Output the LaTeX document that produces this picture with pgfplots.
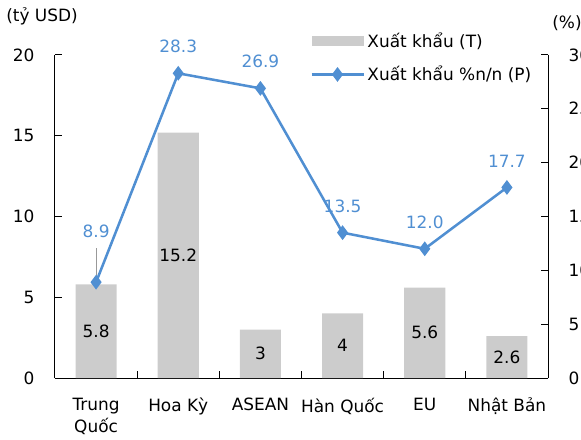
\documentclass[border=0pt]{standalone}
\usepackage{fontspec}
\setmainfont{DejaVu Sans}
\usepackage{pgfplots}
\pgfplotsset{compat=1.18}
\definecolor{barg}{RGB}{204,204,204}
\definecolor{lblue}{RGB}{80,143,210}
\pgfplotsset{
  lineleg/.style={legend image code/.code={\draw[##1, mark repeat=2, mark phase=2] plot coordinates {(0pt,0pt) (19.5pt,0pt) (39pt,0pt)};}},
  barleg/.style={legend image code/.code={\fill[barg] (0pt,-3.75pt) rectangle (39pt,3.75pt);}},
}
\newcommand{\lf}{\fontsize{12.7}{17}\selectfont}
\begin{document}
\lf
\begin{tikzpicture}
\pgfplotsset{
  common/.style={
    scale only axis, width=369.75pt, height=242.25pt,
    xmin=-0.5, xmax=5.5,
    /pgf/number format/assume math mode=true,
    tick label style={font=\lf},
    axis line style={line width=0.75pt, black},
    tick style={line width=0.75pt, black},
    major tick length=5pt, minor tick length=5pt,
  }
}
\begin{axis}[common,
  axis y line*=left, axis x line*=bottom,
  ymin=0, ymax=20, ytick={0,5,10,15,20},
  yticklabel style={xshift=-11pt},
  xtick={0,1,2,3,4,5},
  xticklabels={{Trung\\Quốc},{Hoa Kỳ},{ASEAN},{Hàn Quốc},{EU},{Nhật Bản}},
  xticklabel style={align=center, yshift=-10.5pt},
  minor xtick={0.5,1.5,2.5,3.5,4.5},
  major x tick style={draw=none},
  legend style={at={(axis description cs:0.5172,1.078)}, anchor=north west,
    draw=none, fill=none, inner sep=0pt, row sep=8pt,
    font=\lf,
    nodes={inner sep=2pt}},
  legend cell align=left,
]
\addplot[ybar, bar width=0.5, fill=barg, draw=none, barleg]
  coordinates {(0,5.8) (1,15.2) (2,3) (3,4) (4,5.6) (5,2.6)};
\addlegendentry{Xuất khẩu (T)}
\addlegendimage{lblue, line width=1.9pt, mark=diamond*, mark size=4pt, lineleg}
\addlegendentry{Xuất khẩu \%n/n (P)}
\addplot[draw=none, nodes near coords, point meta=explicit symbolic,
  every node near coord/.append style={anchor=center, inner sep=0pt, black, font=\lf}]
  coordinates {(0,2.9)[5.8] (1,7.6)[15.2] (2,1.5)[3] (3,2)[4] (4,2.8)[5.6] (5,1.3)[2.6]};
\end{axis}
\begin{axis}[common,
  axis y line*=right, axis x line=none,
  ymin=0, ymax=30, ytick={0,5,10,15,20,25,30},
  yticklabel style={xshift=11pt},
]
\addplot[lblue, line width=1.9pt, mark=diamond*, mark size=4pt]
  coordinates {(0,8.9) (1,28.3) (2,26.9) (3,13.5) (4,12.0) (5,17.7)};
\addplot[draw=none, nodes near coords, point meta=explicit symbolic,
  every node near coord/.append style={anchor=south, inner sep=0pt, yshift=15pt, lblue, font=\lf}]
  coordinates {(1,28.3)[28.3] (2,26.9)[26.9] (3,13.5)[13.5] (4,12.0)[12.0] (5,17.7)[17.7]};
\addplot[draw=none, nodes near coords, point meta=explicit symbolic,
  every node near coord/.append style={anchor=south, inner sep=0pt, yshift=33pt, lblue, font=\lf}]
  coordinates {(0,8.9)[8.9]};
\draw[gray!80, line width=0.75pt] (axis cs:0,9.4) -- (axis cs:0,12.1);
\end{axis}
\node at (-9.75pt,271.5pt) {(tỷ USD)};
\node at (384pt,266.25pt) {(\%)};
\pgfresetboundingbox
\path[use as bounding box] (-41.25pt,-45.75pt) rectangle (394.5pt,283.5pt);
\end{tikzpicture}
\end{document}
